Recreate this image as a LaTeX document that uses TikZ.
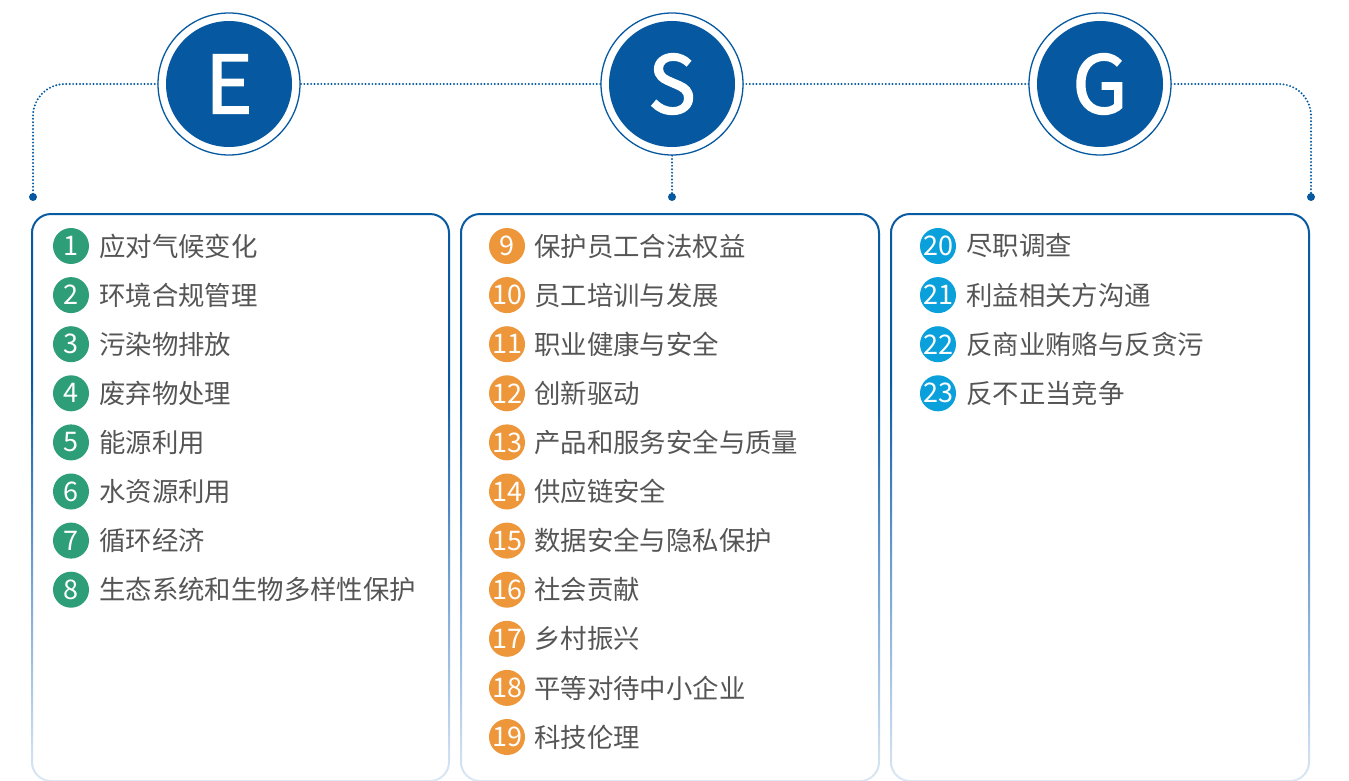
\documentclass[tikz,border=0pt]{standalone}
\usepackage{fontspec}
\newfontfamily\cjk{Noto Sans CJK SC}
\newfontfamily\cjkmed[FakeBold=2]{Noto Sans CJK SC}
\usetikzlibrary{backgrounds}
\definecolor{esgblue}{HTML}{0659A0}
\definecolor{egreen}{HTML}{2E9E78}
\definecolor{sorange}{HTML}{EE963A}
\definecolor{gcyan}{HTML}{0AA0DC}
\definecolor{txt}{HTML}{555555}
\definecolor{bdark}{HTML}{0A5AA2}
\definecolor{bmid}{HTML}{6E9FD2}
\definecolor{blight}{HTML}{DCE8F4}
\pgfdeclareverticalshading{boxborder}{100bp}{color(0bp)=(blight); color(25bp)=(blight); color(44bp)=(bmid); color(60bp)=(bdark); color(100bp)=(bdark)}
\tikzset{
  ring/.style={circle, draw=esgblue, fill=white, line width=1.3pt, minimum size=142, inner sep=0},
  bigc/.style={circle, fill=esgblue, minimum size=126, inner sep=0, text=white, font=\cjkmed\fontsize{80}{80}\selectfont},
  dotline/.style={esgblue, line width=2.2pt, dash pattern=on 0pt off 3.4pt, line cap=round},
  badge/.style={circle, minimum size=36, inner sep=0, text=white, font=\cjk\fontsize{27}{27}\selectfont},
  item/.style={anchor=west, inner sep=0, text=txt, font=\cjk\fontsize{26.4}{26.4}\selectfont},
  boxborder/.style={shading=boxborder, even odd rule}
}
\begin{document}
\begin{tikzpicture}[x=1pt,y=-1pt]
\useasboundingbox (0,0) rectangle (1349,781);
% header circles
\node[ring] (Er) at (229,84) {};
\node[bigc] (E) at (Er) {E};
\node[ring] (Sr) at (672,84) {};
\node[bigc] (S) at (Sr) {S};
\node[ring] (Gr) at (1100,84) {};
\node[bigc] (G) at (Gr) {G};
\coordinate (dL) at (33,197);
\coordinate (dS) at (672,197);
\coordinate (dR) at (1311,197);
\begin{pgfonlayer}{background}
\draw[dotline, rounded corners=32] (dL) |- (Er.center) -- (Gr.center) -| (dR);
\draw[dotline] (Sr.south) -- (dS);
\end{pgfonlayer}
\fill[esgblue] (dL) circle (4) (dS) circle (4) (dR) circle (4);
% boxes
\shade[boxborder] [rounded corners=20] (31,213) rectangle (450,782) [rounded corners=18] (33,215) rectangle (448,780);
\shade[boxborder] [rounded corners=20] (460,213) rectangle (880,782) [rounded corners=18] (462,215) rectangle (878,780);
\shade[boxborder] [rounded corners=20] (890,213) rectangle (1310,782) [rounded corners=18] (892,215) rectangle (1308,780);
% E items
\foreach \t [count=\i] in {应对气候变化,环境合规管理,污染物排放,废弃物处理,能源利用,水资源利用,循环经济,生态系统和生物多样性保护}{
  \node[badge, fill=egreen] (eb\i) at (71,{246+(\i-1)*49.1}) {\i};
  \node[item] (et\i) at (99,{246+(\i-1)*49.1}) {\t};
}
% S items
\foreach \t [count=\i from 9] in {保护员工合法权益,员工培训与发展,职业健康与安全,创新驱动,产品和服务安全与质量,供应链安全,数据安全与隐私保护,社会贡献,乡村振兴,平等对待中小企业,科技伦理}{
  \node[badge, fill=sorange] (sb\i) at (507,{246+(\i-9)*49.1}) {\i};
  \node[item] (st\i) at (534,{246+(\i-9)*49.1}) {\t};
}
% G items
\foreach \t [count=\i from 20] in {尽职调查,利益相关方沟通,反商业贿赂与反贪污,反不正当竞争}{
  \node[badge, fill=gcyan] (gb\i) at (938,{246+(\i-20)*49.1}) {\i};
  \node[item] (gt\i) at (966,{246+(\i-20)*49.1}) {\t};
}
\end{tikzpicture}
\end{document}
